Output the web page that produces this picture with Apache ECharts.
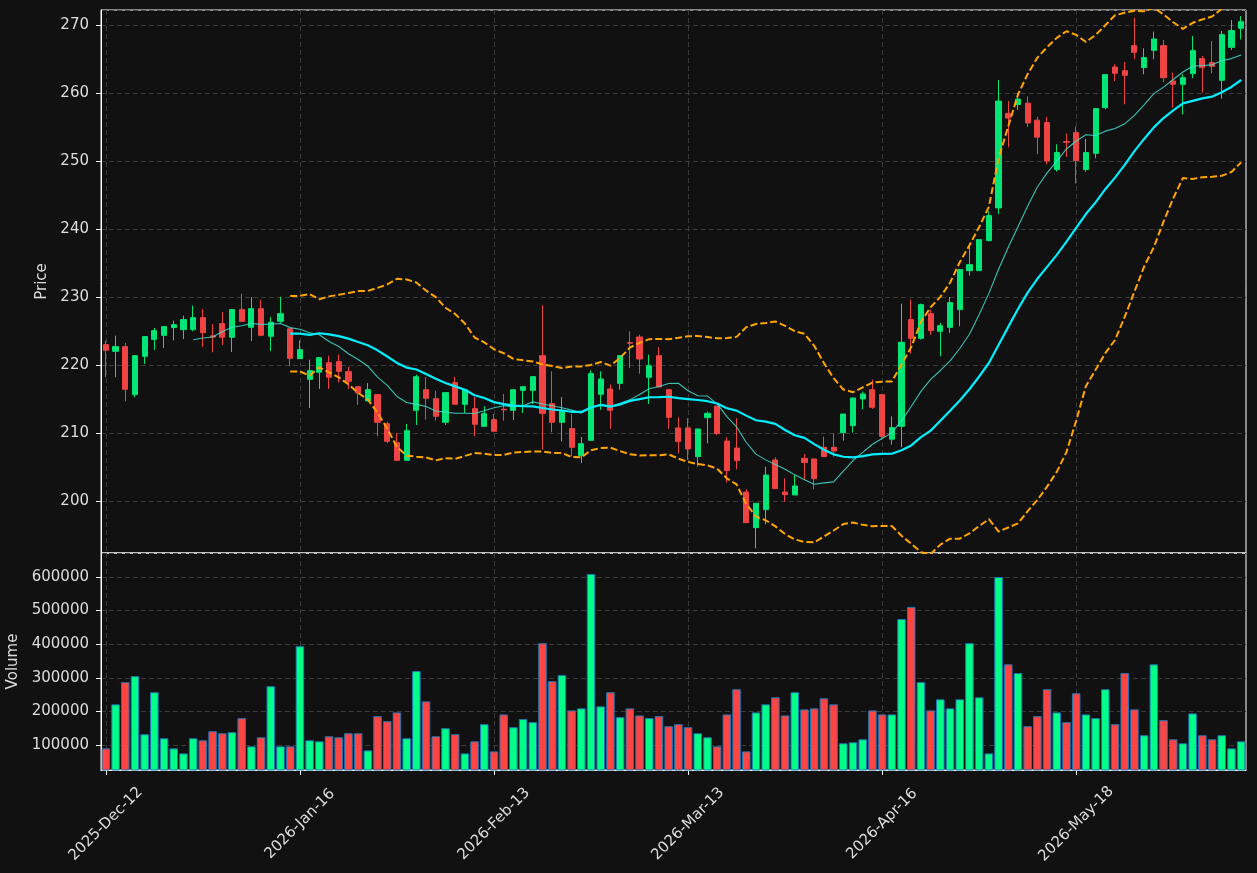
<!DOCTYPE html>
<html>
<head>
<meta charset="utf-8">
<title>Price and volume</title>
<script src="https://cdn.jsdelivr.net/npm/echarts@6/dist/echarts.min.js"></script>
<style>
  html, body { margin: 0; padding: 0; background: #111111; }
  #chart { width: 1257px; height: 873px; }
</style>
</head>
<body>
<div id="chart"></div>
<script>
// trading days shown on the x axis (only every 20th one is labelled)
const dates = [
  '2025-Dec-12', '2025-Dec-15', '2025-Dec-16', '2025-Dec-17', '2025-Dec-18', '2025-Dec-19',
  '2025-Dec-22', '2025-Dec-23', '2025-Dec-29', '2025-Dec-30', '2025-Dec-31',
  '2026-Jan-05', '2026-Jan-06', '2026-Jan-07', '2026-Jan-08', '2026-Jan-09',
  '2026-Jan-12', '2026-Jan-13', '2026-Jan-14', '2026-Jan-15', '2026-Jan-16',
  '2026-Jan-19', '2026-Jan-20', '2026-Jan-21', '2026-Jan-22', '2026-Jan-23',
  '2026-Jan-26', '2026-Jan-27', '2026-Jan-28', '2026-Jan-29', '2026-Jan-30',
  '2026-Feb-02', '2026-Feb-03', '2026-Feb-04', '2026-Feb-05', '2026-Feb-06',
  '2026-Feb-09', '2026-Feb-10', '2026-Feb-11', '2026-Feb-12', '2026-Feb-13',
  '2026-Feb-16', '2026-Feb-17', '2026-Feb-18', '2026-Feb-19', '2026-Feb-20',
  '2026-Feb-23', '2026-Feb-24', '2026-Feb-25', '2026-Feb-26', '2026-Feb-27',
  '2026-Mar-02', '2026-Mar-03', '2026-Mar-04', '2026-Mar-05', '2026-Mar-06',
  '2026-Mar-09', '2026-Mar-10', '2026-Mar-11', '2026-Mar-12', '2026-Mar-13',
  '2026-Mar-16', '2026-Mar-17', '2026-Mar-18', '2026-Mar-19', '2026-Mar-20',
  '2026-Mar-23', '2026-Mar-24', '2026-Mar-25', '2026-Mar-26', '2026-Mar-27',
  '2026-Mar-30',
  '2026-Apr-06', '2026-Apr-07', '2026-Apr-08', '2026-Apr-09', '2026-Apr-10',
  '2026-Apr-13', '2026-Apr-14', '2026-Apr-15', '2026-Apr-16', '2026-Apr-17',
  '2026-Apr-20', '2026-Apr-21', '2026-Apr-22', '2026-Apr-23', '2026-Apr-24',
  '2026-Apr-27', '2026-Apr-28', '2026-Apr-29', '2026-Apr-30',
  '2026-May-04', '2026-May-05', '2026-May-06', '2026-May-07', '2026-May-08',
  '2026-May-11', '2026-May-12', '2026-May-13', '2026-May-14', '2026-May-18',
  '2026-May-19', '2026-May-20', '2026-May-21', '2026-May-22',
  '2026-May-26', '2026-May-27', '2026-May-28', '2026-May-29',
  '2026-Jun-01', '2026-Jun-02', '2026-Jun-03', '2026-Jun-04', '2026-Jun-05',
  '2026-Jun-08', '2026-Jun-09', '2026-Jun-10', '2026-Jun-11'
];

const opens = [
  222.99, 222.01, 222.70, 215.64, 221.27, 223.77, 224.36, 225.49, 225.20, 225.20,
  226.96, 224.30, 226.08, 224.07, 228.14, 225.54, 228.28, 224.22, 226.42, 225.34,
  220.93, 217.89, 218.92, 220.34, 220.49, 219.02, 216.81, 214.71, 215.64, 211.37,
  208.58, 205.98, 213.33, 216.37, 215.05, 211.57, 217.40, 214.22, 213.58, 210.98,
  211.96, 213.50, 213.33, 216.27, 216.27, 221.37, 214.31, 211.57, 210.64, 206.67,
  208.92, 215.69, 216.47, 217.30, 223.30, 224.12, 218.19, 221.37, 216.37, 210.74,
  210.74, 206.52, 212.25, 213.97, 208.82, 207.79, 201.32, 196.08, 198.73, 206.03,
  201.32, 200.88, 206.27, 206.18, 207.89, 207.89, 210.05, 211.08, 215.00, 216.37,
  215.64, 209.08, 210.98, 226.67, 223.92, 227.55, 224.95, 225.54, 228.14, 233.87,
  233.87, 238.28, 243.10, 257.00, 258.30, 258.50, 256.00, 255.64, 248.73, 252.85,
  254.17, 248.73, 251.13, 257.84, 263.82, 263.28, 266.96, 263.73, 266.27, 266.96,
  261.76, 261.27, 262.84, 265.05, 264.46, 261.86, 266.72, 269.51
];

const closes = [
  222.16, 222.70, 216.42, 221.37, 224.17, 225.05, 225.64, 225.93, 226.67, 226.96,
  224.75, 224.10, 224.07, 228.14, 226.42, 228.28, 224.36, 226.27, 227.55, 220.98,
  222.25, 219.17, 221.08, 218.19, 219.07, 217.60, 215.88, 216.37, 211.57, 208.77,
  205.98, 210.34, 218.28, 215.10, 212.45, 215.93, 214.22, 216.37, 211.27, 212.84,
  210.25, 213.40, 216.37, 216.81, 218.28, 212.89, 211.57, 213.33, 207.89, 208.43,
  218.73, 217.94, 213.33, 221.37, 223.20, 220.88, 219.90, 216.76, 212.30, 208.73,
  207.65, 210.59, 212.89, 209.90, 204.46, 205.93, 196.81, 199.66, 203.82, 201.81,
  200.93, 202.21, 205.64, 203.28, 206.52, 207.35, 212.79, 215.15, 215.74, 213.77,
  209.51, 210.78, 223.33, 223.92, 228.87, 225.05, 225.78, 229.17, 234.02, 234.75,
  238.43, 241.96, 258.80, 256.30, 259.10, 255.60, 253.50, 250.00, 251.23, 252.75,
  250.05, 251.23, 257.70, 262.70, 262.89, 262.60, 265.98, 265.20, 267.94, 262.25,
  261.27, 262.25, 266.23, 263.73, 263.92, 268.58, 269.17, 270.49
];

const lows = [
  218.19, 218.19, 214.66, 215.25, 220.15, 222.21, 222.50, 223.63, 223.82, 224.95,
  222.65, 221.86, 222.94, 221.91, 226.42, 223.53, 224.22, 222.06, 226.18, 219.80,
  220.93, 213.68, 216.47, 216.47, 217.45, 216.47, 214.12, 214.71, 209.51, 208.53,
  205.98, 205.98, 211.18, 211.96, 211.81, 211.18, 214.22, 212.94, 209.51, 210.98,
  210.25, 211.81, 211.91, 212.94, 214.26, 207.55, 210.10, 208.77, 206.57, 205.59,
  208.92, 213.43, 210.59, 216.37, 219.56, 218.73, 214.26, 216.76, 210.59, 207.01,
  206.03, 205.05, 208.48, 209.71, 202.70, 204.66, 196.81, 193.04, 196.57, 201.81,
  199.90, 200.88, 203.09, 201.72, 206.52, 206.52, 208.87, 210.05, 213.48, 213.53,
  209.02, 208.28, 207.89, 221.67, 223.73, 224.41, 221.27, 224.71, 225.69, 233.14,
  233.87, 238.19, 242.20, 252.00, 257.50, 255.00, 251.00, 249.50, 248.43, 250.59,
  246.67, 248.43, 250.39, 257.60, 261.76, 258.33, 264.95, 262.75, 264.95, 261.62,
  257.84, 256.86, 262.16, 260.05, 262.89, 259.17, 266.32, 267.89
];

const highs = [
  223.58, 224.31, 223.24, 221.37, 224.17, 225.44, 225.64, 226.52, 227.25, 228.73,
  228.24, 226.03, 227.79, 228.14, 230.49, 230.00, 229.61, 227.06, 230.00, 225.34,
  223.63, 220.78, 221.08, 221.37, 221.52, 219.71, 216.81, 217.35, 215.64, 211.67,
  210.00, 211.32, 218.58, 218.24, 216.23, 215.93, 218.24, 216.37, 215.29, 213.92,
  212.79, 215.74, 216.37, 216.81, 218.28, 228.80, 219.07, 215.29, 212.79, 209.41,
  219.22, 219.07, 217.11, 221.37, 224.95, 224.46, 221.52, 222.65, 216.37, 212.30,
  212.16, 210.59, 213.14, 213.97, 209.36, 212.16, 201.72, 199.66, 205.05, 206.42,
  203.33, 203.82, 206.91, 206.18, 209.46, 209.95, 212.79, 215.15, 216.08, 217.84,
  215.64, 212.45, 229.02, 229.61, 229.02, 228.14, 226.18, 230.00, 234.02, 237.45,
  238.43, 242.60, 261.90, 258.80, 260.00, 259.50, 256.50, 256.50, 252.45, 254.02,
  255.05, 253.24, 257.70, 262.70, 264.22, 264.56, 271.08, 266.57, 269.02, 267.79,
  262.99, 262.75, 268.38, 265.44, 267.65, 269.12, 270.74, 271.32
];

const volumes = [
  90000, 221000, 287000, 305000, 132000, 257000, 120000, 90000, 75000, 120000,
  114000, 141000, 135000, 138000, 180000, 96000, 123000, 275000, 96000, 96000,
  394000, 114000, 111000, 126000, 123000, 135000, 135000, 84000, 186000, 171000,
  197000, 120000, 320000, 230000, 126000, 150000, 132000, 75000, 111000, 162000,
  81000, 191000, 153000, 177000, 168000, 403000, 290000, 308000, 203000, 209000,
  609000, 215000, 257000, 183000, 209000, 188000, 180000, 186000, 156000, 162000,
  153000, 135000, 123000, 96000, 191000, 266000, 81000, 197000, 221000, 242000,
  188000, 257000, 206000, 209000, 239000, 221000, 105000, 108000, 117000, 203000,
  191000, 191000, 475000, 511000, 287000, 203000, 236000, 209000, 236000, 403000,
  242000, 75000, 600000, 340000, 314000, 156000, 186000, 266000, 197000, 168000,
  254000, 191000, 180000, 266000, 162000, 314000, 206000, 129000, 340000, 174000,
  117000, 105000, 194000, 129000, 117000, 129000, 90000, 111000
];

const UP = '#00e676', DOWN = '#ef4444';
const VOL_UP = '#00ff88', VOL_DOWN = '#ff4444';
const TEXT = '#dddddd';
const FONT = 15;
const GRID_LINE = { show: true, lineStyle: { color: '#3a3a3a', type: [5, 3], width: 1 } };

// overlays derived from the closes: 10 and 20 day means, 20 day +/- 2 sd bands
function rolling(src, n, fn) {
  return src.map((_, i) => (i < n - 1 ? null : fn(src.slice(i - n + 1, i + 1))));
}
const mean = (a) => a.reduce((s, v) => s + v, 0) / a.length;
const sd = (a) => { const m = mean(a); return Math.sqrt(mean(a.map((v) => (v - m) * (v - m)))); };
const ma10 = rolling(closes, 10, mean);
const ma20 = rolling(closes, 20, mean);
const bandUp = rolling(closes, 20, (a) => mean(a) + 2 * sd(a));
const bandLow = rolling(closes, 20, (a) => mean(a) - 2 * sd(a));

const chart = echarts.init(document.getElementById('chart'));

const xCommon = {
  type: 'category',
  data: dates,
  boundaryGap: true,
  splitLine: { show: true, interval: 19, alignWithLabel: true, lineStyle: GRID_LINE.lineStyle },
};

chart.setOption({
  backgroundColor: '#111111',
  animation: false,
  textStyle: { fontFamily: 'DejaVu Sans' },
  grid: [
    {
      left: 101, right: 11, top: 10, height: 543, outerBoundsMode: 'none',
      show: true, borderColor: '#ffffff', borderWidth: 1,
    },
    {
      left: 101, right: 11, top: 553, height: 217, outerBoundsMode: 'none',
      show: true, borderColor: '#ffffff', borderWidth: 1,
    },
  ],
  xAxis: [
    Object.assign({}, xCommon, {
      gridIndex: 0,
      axisLine: { show: false },
      axisTick: { show: false },
      axisLabel: { show: false },
    }),
    Object.assign({}, xCommon, {
      gridIndex: 1,
      axisLine: { show: true, lineStyle: { color: '#ffffff' } },
      axisTick: { show: true, interval: 19, alignWithLabel: true, length: 5, lineStyle: { color: '#ffffff' } },
      axisLabel: {
        interval: 19, rotate: 45, color: TEXT, fontSize: FONT,
        align: 'center', verticalAlign: 'middle', margin: 54,
      },
    }),
  ],
  yAxis: [
    {
      gridIndex: 0, type: 'value', min: 192.35, max: 272.2, splitNumber: 8,
      name: 'Price', nameLocation: 'middle', nameGap: 42,
      nameTextStyle: { color: TEXT, fontSize: FONT },
      axisLine: { show: true, lineStyle: { color: '#ffffff' } },
      axisTick: { show: true, length: 5, lineStyle: { color: '#ffffff' } },
      axisLabel: { color: TEXT, fontSize: FONT, margin: 12, showMinLabel: false, showMaxLabel: false },
      splitLine: GRID_LINE,
    },
    {
      gridIndex: 1, type: 'value', min: 25600, max: 671400, splitNumber: 6,
      name: 'Volume', nameLocation: 'middle', nameGap: 73,
      nameTextStyle: { color: TEXT, fontSize: FONT },
      axisLine: { show: true, lineStyle: { color: '#ffffff' } },
      axisTick: { show: true, length: 5, lineStyle: { color: '#ffffff' } },
      axisLabel: {
        color: TEXT, fontSize: FONT, margin: 12, showMinLabel: false, showMaxLabel: false,
        formatter: (v) => v.toFixed(0),
      },
      splitLine: GRID_LINE,
    },
  ],
  series: [
    {
      name: 'OHLC',
      type: 'candlestick',
      xAxisIndex: 0, yAxisIndex: 0,
      barWidth: '58%',
      data: opens.map((o, i) => [o, closes[i], lows[i], highs[i]]),
      itemStyle: { color: UP, color0: DOWN, borderColor: UP, borderColor0: DOWN, borderWidth: 1 },
    },
    {
      name: 'MA10', type: 'line', xAxisIndex: 0, yAxisIndex: 0, data: ma10,
      symbol: 'none', lineStyle: { color: '#40e0d0', width: 1.1, opacity: 0.85 },
    },
    {
      name: 'MA20', type: 'line', xAxisIndex: 0, yAxisIndex: 0, data: ma20,
      symbol: 'none', lineStyle: { color: '#00f0ff', width: 2.2 },
    },
    {
      name: 'Upper', type: 'line', xAxisIndex: 0, yAxisIndex: 0, data: bandUp,
      symbol: 'none', lineStyle: { color: '#ffa500', width: 2, type: [7, 3] },
    },
    {
      name: 'Lower', type: 'line', xAxisIndex: 0, yAxisIndex: 0, data: bandLow,
      symbol: 'none', lineStyle: { color: '#ffa500', width: 2, type: [7, 3] },
    },
    {
      name: 'Volume',
      type: 'bar',
      xAxisIndex: 1, yAxisIndex: 1,
      barWidth: '88%',
      data: volumes.map((v, i) => ({
        value: v,
        itemStyle: { color: closes[i] >= opens[i] ? VOL_UP : VOL_DOWN },
      })),
      itemStyle: { borderColor: '#1f77b4', borderWidth: 1 },
    },
  ],
});
</script>
</body>
</html>
